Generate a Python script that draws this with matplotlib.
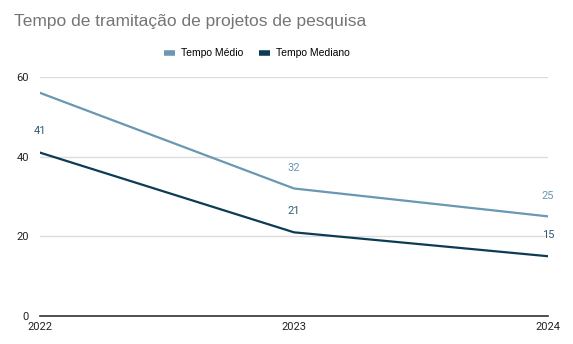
import matplotlib

matplotlib.use("Agg")
import matplotlib.pyplot as plt

years = ["2022", "2023", "2024"]
tempo_medio = [56, 32, 25]
tempo_mediano = [41, 21, 15]
# the 2022 label of "Tempo Médio" is not shown in the chart
labels_medio = [None, "32", "25"]
labels_mediano = ["41", "21", "15"]

plt.rcParams["font.family"] = ["Roboto", "DejaVu Sans"]

color_medio = "#6a97b3"
color_mediano = "#0d3b56"

fig = plt.figure(figsize=(5.73, 3.44), dpi=100)
ax = fig.add_axes([0.0698, 0.0814, 0.8866, 0.695])

x = list(range(len(years)))
ax.plot(x, tempo_medio, color=color_medio, linewidth=1.6, label="Tempo Médio")
ax.plot(x, tempo_mediano, color=color_mediano, linewidth=1.6, label="Tempo Mediano")

for xi, yi, lab in zip(x, tempo_medio, labels_medio):
    if lab:
        ax.annotate(lab, (xi, yi), xytext=(0, 15), textcoords="offset points",
                    ha="center", va="center", fontsize=8, color=color_medio)
for xi, yi, lab in zip(x, tempo_mediano, labels_mediano):
    if lab:
        ax.annotate(lab, (xi, yi), xytext=(0, 15.5), textcoords="offset points",
                    ha="center", va="center", fontsize=8, color="#2f5a72")

ax.set_xlim(0, 2)
ax.set_ylim(0, 60)
ax.set_yticks([0, 20, 40, 60])
ax.set_xticks(x)
ax.set_xticklabels(years)
ax.grid(axis="y", color="#dcdcdc", linewidth=1)
ax.set_axisbelow(True)
for side in ["top", "right", "left"]:
    ax.spines[side].set_visible(False)
ax.spines["bottom"].set_color("#333333")
ax.spines["bottom"].set_linewidth(1.2)
ax.tick_params(axis="both", length=0, labelsize=8, colors="#222222")
ax.tick_params(axis="x", pad=4)
ax.tick_params(axis="y", pad=8)

fig.text(0.024, 0.938, "Tempo de tramitação de projetos de pesquisa",
         fontsize=12.5, color="#757575", ha="left", va="center",
         family=["Liberation Sans", "DejaVu Sans"])

leg = fig.legend(loc="center", bbox_to_anchor=(0.448, 0.845), ncol=2, frameon=False,
                 prop={"family": "Liberation Sans", "size": 7.5},
                 handlelength=1.1, handletextpad=0.55, columnspacing=1.5)
for h in leg.get_lines():
    h.set_linewidth(4)
    h.set_solid_capstyle("butt")

fig.savefig("out.png", dpi=100)
